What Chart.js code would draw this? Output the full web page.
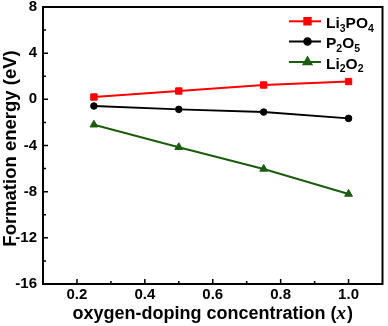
<!DOCTYPE html>
<html>
<head>
<meta charset="utf-8">
<script src="https://cdn.jsdelivr.net/npm/chart.js@4/dist/chart.umd.min.js"></script>
<style>
  html, body { margin: 0; padding: 0; background: #fff; }
  #wrap { width: 388px; height: 326px; }
</style>
</head>
<body>
<div id="wrap"><canvas id="line-chart" width="388" height="326"></canvas></div>
<script>
// values
const xValues = [0.25, 0.5, 0.75, 1.0];
const li3po4 = [0.2, 0.72, 1.24, 1.54];
const p2o5 = [-0.58, -0.87, -1.1, -1.65];
const li2o2 = [-2.2, -4.15, -6.03, -8.2];

const yTicks = [8, 4, 0, -4, -8, -12, -16];
const yMinor = [6, 2, -2, -6, -10, -14];
const xTicks = [0.2, 0.4, 0.6, 0.8, 1.0];
const xMinor = [0.3, 0.5, 0.7, 0.9];

const RED = '#ff0000', BLACK = '#000000', GREEN = '#1c5c0e';
const FONT = '"Liberation Sans", Arial, sans-serif';

function pts(ys) {
    return xValues.map((x, i) => ({x: x, y: ys[i]}));
}

const series = [
    {label: 'Li3PO4', parts: [['Li', 0], ['3', 1], ['PO', 0], ['4', 1]], color: RED, style: 'rect', r: 4.5, data: li3po4},
    {label: 'P2O5', parts: [['P', 0], ['2', 1], ['O', 0], ['5', 1]], color: BLACK, style: 'circle', r: 3.3, data: p2o5},
    {label: 'Li2O2', parts: [['Li', 0], ['2', 1], ['O', 0], ['2', 1]], color: GREEN, style: 'triangle', r: 4.5, data: li2o2},
];

// frame, inward ticks, axis titles and legend with subscripts
const decor = {
    id: 'decor',
    afterDraw(chart) {
        const {ctx, chartArea: a, scales: {x, y}} = chart;
        ctx.save();
        ctx.strokeStyle = '#000';
        ctx.lineWidth = 2;
        ctx.strokeRect(a.left, a.top, a.right - a.left, a.bottom - a.top);

        ctx.lineWidth = 1.5;
        ctx.beginPath();
        for (const v of yTicks) {
            const py = y.getPixelForValue(v);
            ctx.moveTo(a.left, py); ctx.lineTo(a.left + 5, py);
        }
        for (const v of yMinor) {
            const py = y.getPixelForValue(v);
            ctx.moveTo(a.left, py); ctx.lineTo(a.left + 3, py);
        }
        for (const v of xTicks) {
            const px = x.getPixelForValue(v);
            ctx.moveTo(px, a.bottom); ctx.lineTo(px, a.bottom - 5);
        }
        for (const v of xMinor) {
            const px = x.getPixelForValue(v);
            ctx.moveTo(px, a.bottom); ctx.lineTo(px, a.bottom - 3);
        }
        ctx.stroke();

        // y title
        ctx.fillStyle = '#000';
        ctx.font = 'bold 18.5px ' + FONT;
        ctx.textAlign = 'center';
        ctx.textBaseline = 'middle';
        ctx.save();
        ctx.translate(11, 148.5);
        ctx.rotate(-Math.PI / 2);
        ctx.fillText('Formation energy (eV)', 0, 0);
        ctx.restore();

        // x title with italic x
        const t1 = 'oxygen-doping concentration (';
        const t2 = 'x';
        const t3 = ')';
        const f1 = 'bold 18px ' + FONT;
        const f2 = 'italic bold 19px "Liberation Serif", serif';
        ctx.font = f1;
        const w1 = ctx.measureText(t1).width, w3 = ctx.measureText(t3).width;
        ctx.font = f2;
        const w2 = ctx.measureText(t2).width + 1;
        let tx = (a.left + a.right) / 2 - (w1 + w2 + w3) / 2;
        const ty = 314;
        ctx.textAlign = 'left';
        ctx.font = f1; ctx.fillText(t1, tx, ty); tx += w1;
        ctx.font = f2; ctx.fillText(t2, tx, ty); tx += w2;
        ctx.font = f1; ctx.fillText(t3, tx, ty);

        // legend
        const rows = [21.3, 41.5, 62];
        series.forEach((s, i) => {
            const ly = rows[i];
            ctx.strokeStyle = s.color;
            ctx.fillStyle = s.color;
            ctx.lineWidth = 2;
            ctx.beginPath();
            ctx.moveTo(289, ly); ctx.lineTo(321, ly);
            ctx.stroke();
            Chart.helpers.drawPoint(ctx, {pointStyle: s.style, radius: s.r, rotation: 0, borderWidth: 1}, 307.5, ly);
            let lx = 326;
            ctx.fillStyle = '#000';
            ctx.textBaseline = 'middle';
            for (const [txt, sub] of s.parts) {
                ctx.font = sub ? 'bold 10.5px ' + FONT : 'bold 15.5px ' + FONT;
                ctx.fillText(txt, lx, sub ? ly + 7.5 : ly + 2.5);
                lx += ctx.measureText(txt).width;
            }
        });
        ctx.restore();
    }
};

const data = {
    datasets: series.map(s => ({
        label: s.label,
        data: pts(s.data),
        borderColor: s.color,
        backgroundColor: s.color,
        borderWidth: 2,
        pointStyle: s.style,
        pointRadius: s.r,
        pointBorderWidth: 1,
        tension: 0,
    }))
};

const config = {
    type: 'line',
    data,
    options: {
        responsive: false,
        animation: false,
        layout: {padding: {top: 7, right: 4, left: 0, bottom: 0}},
        plugins: {
            legend: {display: false},
            tooltip: {enabled: false},
        },
        scales: {
            x: {
                type: 'linear',
                min: 0.1,
                max: 1.1,
                grid: {display: false, drawTicks: false},
                border: {display: false},
                afterBuildTicks: (scale) => { scale.ticks = xTicks.map(v => ({value: v})); },
                afterFit: (scale) => {
                    scale.height = 42;
                    scale.paddingLeft = 0; scale.paddingRight = 0;
                },
                ticks: {
                    padding: 2,
                    maxRotation: 0,
                    color: '#000',
                    font: {family: FONT, size: 15, weight: 'bold'},
                    callback: (v) => v.toFixed(1),
                },
            },
            y: {
                min: -16,
                max: 8,
                grid: {display: false, drawTicks: false},
                border: {display: false},
                afterBuildTicks: (scale) => { scale.ticks = yTicks.map(v => ({value: v})); },
                afterFit: (scale) => {
                    scale.width = 43;
                    scale.paddingTop = 0; scale.paddingBottom = 0;
                },
                ticks: {
                    padding: 6,
                    color: '#000',
                    font: {family: FONT, size: 15, weight: 'bold'},
                },
            },
        },
    },
    plugins: [decor],
};

new Chart(document.getElementById('line-chart'), config);
</script>
</body>
</html>
